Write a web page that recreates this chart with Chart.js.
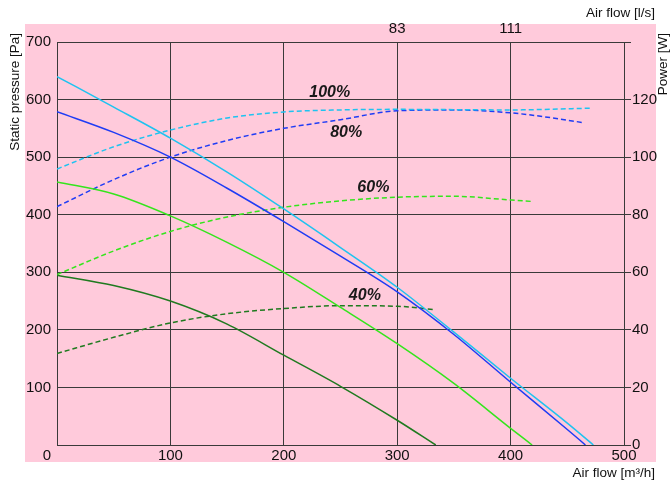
<!DOCTYPE html>
<html>
<head>
<meta charset="utf-8">
<script src="https://cdn.jsdelivr.net/npm/chart.js@4.4.1/dist/chart.umd.min.js"></script>
<style>
  html, body { margin: 0; padding: 0; background: #fff; }
  canvas { display: block; }
</style>
</head>
<body>
<canvas id="fanChart" width="672" height="484"></canvas>
<script>
// Air flow in m3/h and static pressure in Pa for each fan speed
const flowP100 = [0, 50, 100, 150, 200, 250, 300, 350, 400, 450, 473];
const pressure100 = [640, 587, 533, 474, 410, 343, 274, 196, 116, 38, 0];
const flowP80 = [0, 50, 100, 150, 200, 250, 300, 350, 400, 450, 466];
const pressure80 = [579, 543, 500, 446, 388, 328, 266, 192, 109, 27, 0];
const flowP60 = [0, 50, 100, 150, 200, 250, 300, 350, 400, 419];
const pressure60 = [457, 436, 398, 352, 300, 239, 176, 107, 29, 0];
const flowP40 = [0, 50, 100, 150, 200, 250, 300, 334];
const pressure40 = [295, 277, 250, 210, 156, 102, 43, 0];

// Air flow in m3/h and absorbed power in W for each fan speed
const flowW100 = [0, 50, 100, 150, 200, 250, 300, 350, 400, 470];
const power100 = [95.9, 103.6, 109.4, 113.6, 115.7, 116.4, 116.6, 116.5, 116.4, 117];
const flowW80 = [0, 50, 100, 150, 200, 250, 300, 350, 400, 430, 464];
const power80 = [82.8, 92.2, 100, 105.8, 110, 113, 116.1, 116.4, 115.4, 114, 112];
const flowW60 = [0, 50, 100, 150, 200, 250, 300, 350, 400, 419];
const power60 = [59.2, 67.4, 74.2, 79.2, 82.6, 84.8, 86.1, 86.4, 85.1, 84.6];
const flowW40 = [0, 50, 100, 150, 200, 250, 300, 333];
const power40 = [31.8, 37.4, 42.4, 45.6, 47.4, 48.4, 48.2, 47];

// Axis ticks
const bottomTickValues = [0, 100, 200, 300, 400, 500];
const bottomTickLabels = ['0', '100', '200', '300', '400', '500'];
const topTickValues = [300, 400];          // m3/h positions of the l/s marks
const topTickLabels = ['83', '111'];       // l/s

// Speed labels, placed in data units (m3/h, Pa)
const speedLabels = [
  { text: '100%', x: 240.5, y: 612 },
  { text: '80%', x: 255, y: 542 },
  { text: '60%', x: 279, y: 447 },
  { text: '40%', x: 271.5, y: 260 }
];

const C100 = '#1ec3f0';
const C80 = '#1f3cf5';
const C60 = '#34e51c';
const C40 = '#1f7a1f';
const GRID = '#3a3a3a';
const FONT = '"Liberation Sans", Arial, sans-serif';

function pts(xs, ys) { return xs.map((x, i) => ({ x: x, y: ys[i] })); }

function curve(label, xs, ys, color, axis, dashed) {
  return {
    label: label,
    data: pts(xs, ys),
    yAxisID: axis,
    borderColor: color,
    backgroundColor: color,
    borderWidth: 1.5,
    borderDash: dashed ? [5, 3] : [],
    pointRadius: 0,
    fill: false,
    cubicInterpolationMode: 'monotone'
  };
}

const framePlugin = {
  id: 'frame',
  beforeDraw(chart) {
    const ctx = chart.ctx;
    ctx.save();
    ctx.fillStyle = '#ffffff';
    ctx.fillRect(0, 0, chart.width, chart.height);
    ctx.fillStyle = '#ffcadb';
    ctx.fillRect(25, 24, 631, 438);
    ctx.restore();
  },
  afterDraw(chart) {
    const ctx = chart.ctx;
    const xs = chart.scales.x;
    ctx.save();
    ctx.fillStyle = '#111';
    // bottom tick labels
    ctx.font = '15px ' + FONT;
    ctx.textAlign = 'center';
    ctx.textBaseline = 'middle';
    bottomTickValues.forEach((v, i) => {
      let px = xs.getPixelForValue(v);
      if (i === 0) px -= 10;
      ctx.fillText(bottomTickLabels[i], px, 456);
    });
    // axis titles
    ctx.font = '13.5px ' + FONT;
    ctx.textAlign = 'right';
    ctx.textBaseline = 'alphabetic';
    ctx.fillText('Air flow [l/s]', 655, 17);
    ctx.fillText('Air flow [m³/h]', 655, 477);
    ctx.save();
    ctx.translate(19, 33);
    ctx.rotate(-Math.PI / 2);
    ctx.textAlign = 'right';
    ctx.fillText('Static pressure [Pa]', 0, 0);
    ctx.restore();
    ctx.save();
    ctx.translate(667, 33);
    ctx.rotate(-Math.PI / 2);
    ctx.textAlign = 'right';
    ctx.fillText('Power [W]', 0, 0);
    ctx.restore();
    // speed labels
    const ys = chart.scales.y;
    ctx.font = 'italic bold 16px ' + FONT;
    ctx.textAlign = 'center';
    ctx.textBaseline = 'middle';
    ctx.fillStyle = '#1a1a1a';
    speedLabels.forEach(l => {
      ctx.fillText(l.text, xs.getPixelForValue(l.x), ys.getPixelForValue(l.y));
    });
    ctx.restore();
  }
};

new Chart(document.getElementById('fanChart'), {
  type: 'line',
  data: {
    datasets: [
      curve('100% pressure', flowP100, pressure100, C100, 'y', false),
      curve('80% pressure', flowP80, pressure80, C80, 'y', false),
      curve('60% pressure', flowP60, pressure60, C60, 'y', false),
      curve('40% pressure', flowP40, pressure40, C40, 'y', false),
      curve('100% power', flowW100, power100, C100, 'y2', true),
      curve('80% power', flowW80, power80, C80, 'y2', true),
      curve('60% power', flowW60, power60, C60, 'y2', true),
      curve('40% power', flowW40, power40, C40, 'y2', true)
    ]
  },
  options: {
    responsive: false,
    animation: false,
    devicePixelRatio: 1,
    layout: { padding: 0 },
    plugins: { legend: { display: false }, tooltip: { enabled: false } },
    scales: {
      x: {
        type: 'linear', position: 'bottom', min: 0, max: 500,
        afterBuildTicks(s) { s.ticks = bottomTickValues.map(v => ({ value: v })); },
        afterFit(s) { s.height = 39; },
        ticks: { display: false },
        grid: { color: GRID, lineWidth: 1, drawTicks: false },
        border: { display: true, color: GRID, width: 1 }
      },
      x2: {
        type: 'linear', position: 'top', min: 0, max: 500,
        afterBuildTicks(s) { s.ticks = topTickValues.map(v => ({ value: v })); },
        afterFit(s) { s.height = 42; },
        ticks: {
          callback: (v, i) => topTickLabels[i],
          font: { family: FONT, size: 15 }, color: '#111', padding: 4, maxRotation: 0
        },
        grid: { drawOnChartArea: false, drawTicks: false },
        border: { display: false }
      },
      y: {
        type: 'linear', position: 'left', min: 0, max: 700,
        afterFit(s) { s.width = 57; },
        ticks: {
          stepSize: 100, callback: v => (v === 0 ? '' : v),
          font: { family: FONT, size: 15 }, color: '#111', padding: 6
        },
        grid: { color: GRID, lineWidth: 1, drawTicks: false },
        border: { display: true, color: GRID, width: 1 }
      },
      y2: {
        type: 'linear', position: 'right', min: 0, max: 140,
        afterFit(s) { s.width = 48; },
        ticks: {
          stepSize: 20, callback: v => (v === 140 ? '' : v),
          font: { family: FONT, size: 15 }, color: '#111', padding: 1
        },
        grid: { drawOnChartArea: false, drawTicks: true, tickLength: 7, color: GRID },
        border: { display: true, color: GRID, width: 1 }
      }
    }
  },
  plugins: [framePlugin]
});
</script>
</body>
</html>
